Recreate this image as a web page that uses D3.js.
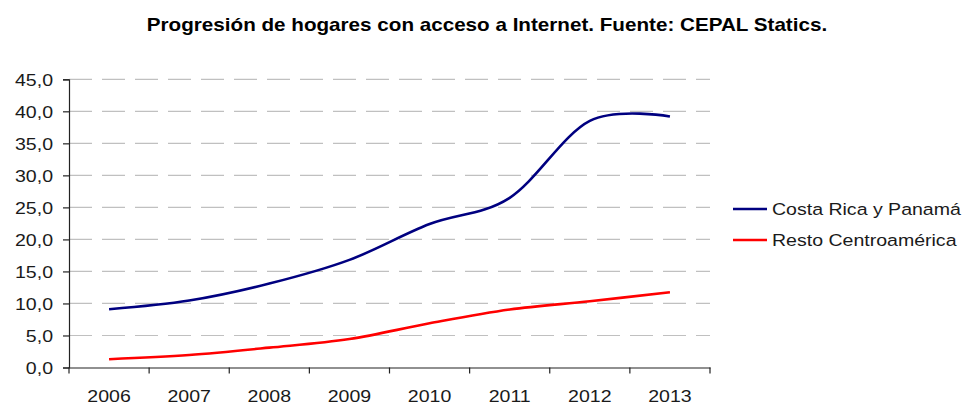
<!DOCTYPE html>
<html>
<head>
<meta charset="utf-8">
<script src="https://cdn.jsdelivr.net/npm/d3@7"></script>
<style>
  html, body { margin: 0; padding: 0; background: #fff; }
  svg { display: block; }
  text { font-family: "Liberation Sans", Arial, sans-serif; fill: #1a1a1a; }
</style>
</head>
<body>
<svg id="chart" width="964" height="404"></svg>
<script>
const title = "Progresión de hogares con acceso a Internet. Fuente: CEPAL Statics.";
const categories = ["2006", "2007", "2008", "2009", "2010", "2011", "2012", "2013"];
const seriesNames = ["Costa Rica y Panamá", "Resto Centroamérica"];
const costaRicaPanama = [9.1, 10.45, 13.1, 16.8, 22.4, 26.5, 38.5, 39.2];
const restoCentroamerica = [1.3, 1.95, 3.1, 4.45, 6.9, 9.05, 10.35, 11.75];
const yTicks = [0, 5, 10, 15, 20, 25, 30, 35, 40, 45];
const colors = ["#000080", "#ff0000"];

(function () {
const series = [
  { name: seriesNames[0], values: costaRicaPanama, color: colors[0] },
  { name: seriesNames[1], values: restoCentroamerica, color: colors[1] }
];

const SX = 1.15;
const svg = d3.select("#chart");
const pLeft = 69, pRight = 710, pTop = 79.3, pBottom = 367.5;

const x = d3.scaleBand().domain(categories).range([pLeft, pRight]).padding(0);
const y = d3.scaleLinear().domain([0, 45]).range([pBottom, pTop]);
const fmt = v => d3.format(".1f")(v).replace(".", ",");

// title
svg.append("text")
  .attr("transform", `translate(487,31) scale(1.18,1)`)
  .attr("text-anchor", "middle")
  .style("font-weight", "bold")
  .style("font-size", "17.5px")
  .style("fill", "#000")
  .text(title);

// gridlines
svg.append("g").selectAll("line").data(yTicks.filter(d => d > 0)).join("line")
  .attr("x1", pLeft).attr("x2", pRight)
  .attr("y1", d => y(d)).attr("y2", d => y(d))
  .attr("stroke", "#c0c0c0").attr("stroke-width", 1.2)
  .attr("stroke-dasharray", "23,10");

// y axis
const yAxis = svg.append("g").attr("transform", `translate(${pLeft},0)`)
  .call(d3.axisLeft(y).tickValues(yTicks).tickFormat(fmt).tickSize(6).tickPadding(10));
yAxis.select(".domain").attr("stroke", "#222").attr("stroke-width", 1.2);
yAxis.selectAll(".tick line").attr("stroke", "#222").attr("stroke-width", 1.2);
yAxis.selectAll(".tick text")
  .attr("x", null).attr("dy", null)
  .attr("transform", `translate(-16,6) scale(${SX},1)`)
  .style("font-size", "17px").style("font-family", "'Liberation Sans', Arial, sans-serif")
  .style("fill", "#1a1a1a");

// x axis
const xAxis = svg.append("g").attr("transform", `translate(0,${pBottom})`)
  .call(d3.axisBottom(x).tickSize(0).tickPadding(0));
xAxis.select(".domain").attr("stroke", "#222").attr("stroke-width", 1.2);
xAxis.selectAll(".tick text")
  .attr("y", null).attr("dy", null)
  .attr("transform", `translate(0,34) scale(${SX},1)`)
  .style("font-size", "17px").style("font-family", "'Liberation Sans', Arial, sans-serif")
  .style("fill", "#1a1a1a");
const boundaries = categories.map(c => x(c)).concat([x(categories[categories.length - 1]) + x.bandwidth()]);
xAxis.append("g").selectAll("line").data(boundaries).join("line")
  .attr("x1", d => d).attr("x2", d => d)
  .attr("y1", 0).attr("y2", 6)
  .attr("stroke", "#222").attr("stroke-width", 1.2);

// lines
const line = d3.line()
  .x((d, i) => x(categories[i]) + x.bandwidth() / 2)
  .y(d => y(d))
  .curve(d3.curveCardinal.tension(0));
svg.append("g").selectAll("path").data(series).join("path")
  .attr("d", d => line(d.values))
  .attr("fill", "none")
  .attr("stroke", d => d.color)
  .attr("stroke-width", 2.6)
  .attr("stroke-linejoin", "round");

// legend
const legend = svg.append("g").selectAll("g").data(series).join("g")
  .attr("transform", (d, i) => `translate(733,${209 + i * 31})`);
legend.append("line")
  .attr("x1", 0).attr("x2", 34).attr("y1", 0).attr("y2", 0)
  .attr("stroke", d => d.color).attr("stroke-width", 2.6);
legend.append("text")
  .attr("transform", `translate(39,6) scale(${SX},1)`)
  .style("font-size", "17px")
  .text(d => d.name);
})();
</script>
</body>
</html>
